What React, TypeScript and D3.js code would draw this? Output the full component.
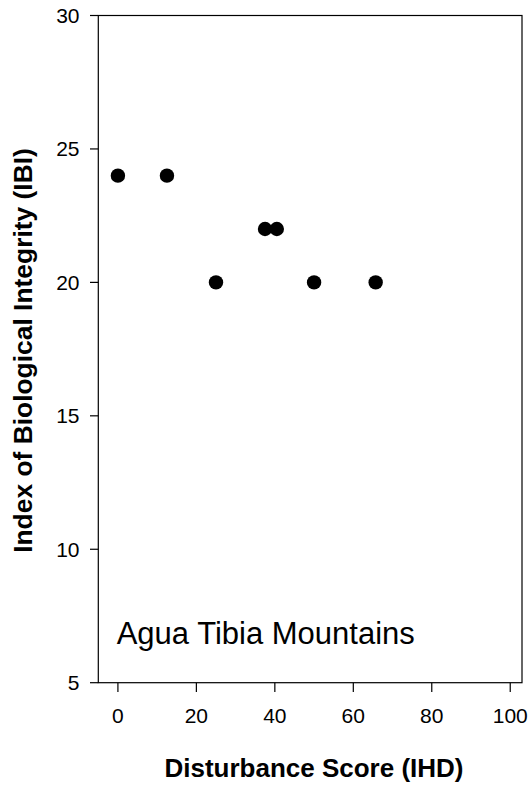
import React from "react";
import * as d3 from "d3";

const disturbance = [0, 12.5, 25, 37.5, 40.5, 50, 65.7];
const ibi = [24, 24, 20, 22, 22, 20, 20];
const xTicks = [0, 20, 40, 60, 80, 100];
const yTicks = [5, 10, 15, 20, 25, 30];
const xTitle = "Disturbance Score (IHD)";
const yTitle = "Index of Biological Integrity (IBI)";
const siteLabel = "Agua Tibia Mountains";

const W = 532;
const H = 789;
const left = 98.3;
const right = 522;
const top = 15.5;
const bottom = 682.7;
const font = "Arial, 'Liberation Sans', Helvetica, sans-serif";

export default function App() {
  const x = d3.scaleLinear().domain([-5, 103]).range([left, right]);
  const y = d3.scaleLinear().domain([5, 30]).range([bottom, top]);
  const pts = disturbance.map((d, i) => ({ x: d, y: ibi[i] }));
  return (
    <svg
      width={W}
      height={H}
      style={{ position: "fixed", left: 0, top: 0, background: "#fff" }}
      fontFamily={font}
    >
      <rect x={0} y={0} width={W} height={H} fill="#fff" />
      <rect
        x={left}
        y={top}
        width={right - left}
        height={bottom - top}
        fill="none"
        stroke="#000"
        strokeWidth={1.2}
      />
      {yTicks.map((t) => (
        <g key={"y" + t}>
          <line x1={90} x2={left} y1={y(t)} y2={y(t)} stroke="#000" strokeWidth={1.2} />
          <text x={79.5} y={y(t)} textAnchor="end" dominantBaseline="central" fontSize={21} fill="#000">
            {t}
          </text>
        </g>
      ))}
      {xTicks.map((t) => (
        <g key={"x" + t}>
          <line x1={x(t)} x2={x(t)} y1={bottom} y2={692} stroke="#000" strokeWidth={1.2} />
          <text x={x(t)} y={723} textAnchor="middle" fontSize={21} fill="#000">
            {t}
          </text>
        </g>
      ))}
      {pts.map((p, i) => (
        <circle key={i} cx={x(p.x)} cy={y(p.y)} r={7.2} fill="#000" />
      ))}
      <text x={116.7} y={643.5} fontSize={31} fill="#000">
        {siteLabel}
      </text>
      <text x={314} y={777} textAnchor="middle" fontSize={26} fontWeight="bold" fill="#000">
        {xTitle}
      </text>
      <text
        transform={`translate(32,350.5) rotate(-90)`}
        textAnchor="middle"
        fontSize={26.4}
        fontWeight="bold"
        fill="#000"
      >
        {yTitle}
      </text>
    </svg>
  );
}
